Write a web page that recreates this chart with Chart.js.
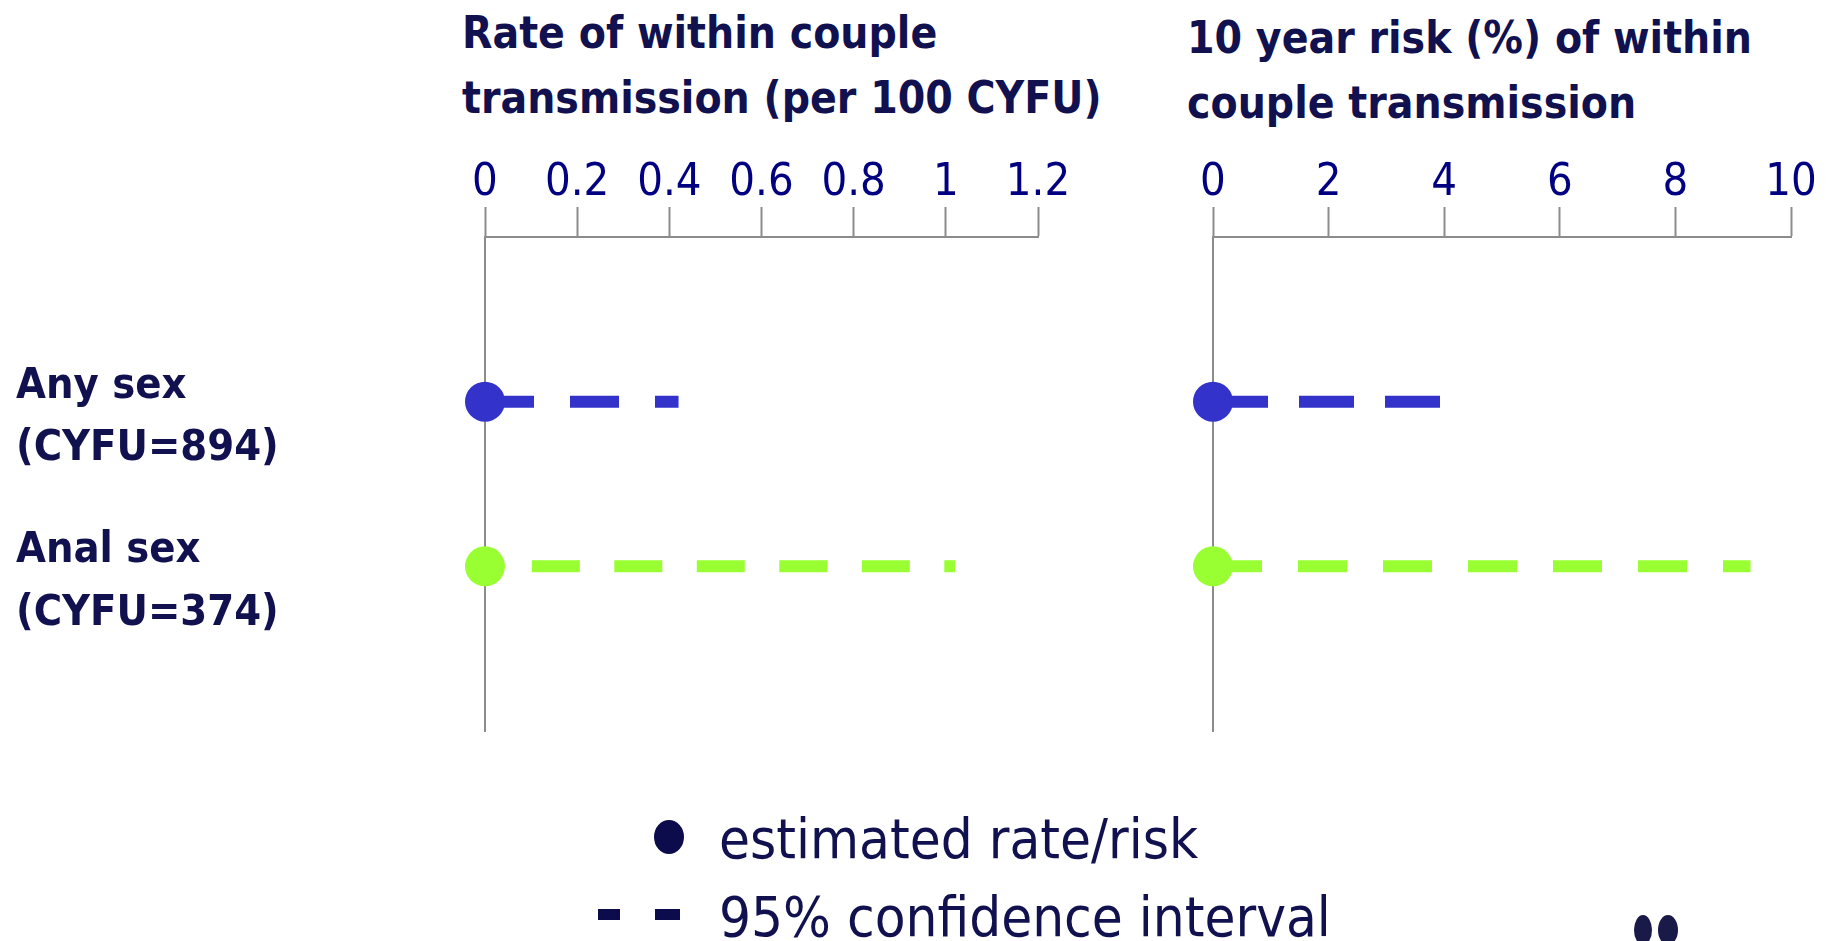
<!DOCTYPE html>
<html>
<head>
<meta charset="utf-8">
<script src="https://cdn.jsdelivr.net/npm/chart.js@4.4.1/dist/chart.umd.min.js"></script>
<style>
  body { margin: 0; background: #fff; width: 1833px; height: 941px; overflow: hidden; position: relative;
         font-family: "Liberation Sans Narrow", "DejaVu Sans Condensed", "Open Sans", sans-serif; }
  canvas { position: absolute; top: 0; }
  .title { position: absolute; font-weight: bold; font-size: 44px; line-height: 65px; color: #111150; white-space: nowrap; }
  .legtext { position: absolute; font-size: 56px; line-height: 70px; color: #111150; white-space: nowrap; }
  .dot { position: absolute; background: #0c0c4c; border-radius: 50%; }
  .dash { position: absolute; background: #0c0c4c; }
</style>
</head>
<body>
<div class="title" style="left:462px; top:0px;">Rate of within couple<br>transmission (per 100 CYFU)</div>
<div class="title" style="left:1187px; top:5px;">10 year risk (%) of within<br>couple transmission</div>

<canvas id="rateChart" width="1110" height="760" style="left:0px;"></canvas>
<canvas id="riskChart" width="723" height="760" style="left:1110px;"></canvas>

<div class="dot" style="left:654px; top:820px; width:30px; height:34px;"></div>
<div class="legtext" style="left:719px; top:804px;">estimated rate/risk</div>
<div class="dash" style="left:598px; top:909px; width:22px; height:11px;"></div>
<div class="dash" style="left:655px; top:909px; width:25px; height:11px;"></div>
<div class="legtext" style="left:719px; top:882px;">95% confidence interval</div>
<div class="dot" style="left:1634px; top:915px; width:18px; height:30px; background:#1a1a48;"></div>
<div class="dot" style="left:1658px; top:915px; width:20px; height:30px; background:#1a1a48;"></div>

<script>
const categories = ["Any sex", "Anal sex"];
const sampleSizes = ["(CYFU=894)", "(CYFU=374)"];
const colors = ["#3333cc", "#99ff33"];

const rateEstimate = [0, 0];
const rateUpper = [0.42, 1.02];
const riskEstimate = [0, 0];
const riskUpper = [4.05, 9.3];

const rateTicks = [0, 0.2, 0.4, 0.6, 0.8, 1, 1.2];
const riskTicks = [0, 2, 4, 6, 8, 10];

const FONT = '"Liberation Sans Narrow", "DejaVu Sans Condensed", "Open Sans", sans-serif';
const GRAY = "#8c8c8c";

// rows sit at y = 1 and 2 on a 0..3 reversed axis, which gives the empty space above and below
const rowPos = categories.map((c, i) => i + 1);

function buildDatasets(estimates, uppers, dashes) {
  const sets = [];
  categories.forEach((c, i) => {
    sets.push({
      label: c + " estimate",
      data: [{ x: estimates[i], y: rowPos[i] }],
      showLine: false,
      clip: false,
      pointRadius: 20,
      pointBorderWidth: 0,
      pointBackgroundColor: colors[i],
      pointBorderColor: colors[i],
      order: 0,
    });
    sets.push({
      label: c + " 95% CI",
      data: [{ x: estimates[i], y: rowPos[i] }, { x: uppers[i], y: rowPos[i] }],
      showLine: true,
      clip: false,
      borderColor: colors[i],
      borderWidth: 12,
      borderDash: dashes[i].pattern,
      borderDashOffset: dashes[i].offset,
      pointRadius: 0,
      order: 1,
    });
  });
  return sets;
}

function makeChart(id, estimates, uppers, tickList, max, dashes, opts) {
  return new Chart(document.getElementById(id), {
    type: "scatter",
    data: { datasets: buildDatasets(estimates, uppers, dashes) },
    options: {
      responsive: false,
      animation: false,
      layout: { padding: opts.padding },
      plugins: { legend: { display: false }, tooltip: { enabled: false } },
      scales: {
        x: {
          type: "linear",
          position: "top",
          min: 0,
          max: max,
          afterBuildTicks: (s) => { s.ticks = tickList.map((v) => ({ value: v })); },
          afterFit: (s) => { s.height = 237; },
          grid: { drawOnChartArea: false, tickLength: 30, tickColor: GRAY, tickWidth: 2 },
          border: { display: true, color: GRAY, width: 2 },
          ticks: {
            callback: (v) => String(v),
            color: "#000080",
            font: { family: FONT, size: 45 },
            padding: -3,
            maxRotation: 0,
            autoSkip: false,
          },
        },
        y: {
          type: "linear",
          position: "left",
          min: 0,
          max: 3,
          reverse: true,
          afterBuildTicks: (s) => { s.ticks = rowPos.map((v) => ({ value: v })); },
          afterFit: (s) => { s.width = opts.yWidth; s.paddingTop = 0; s.paddingBottom = 0; },
          grid: { display: false },
          border: { display: true, color: GRAY, width: 2 },
          ticks: {
            display: opts.showYLabels,
            callback: (v) => [categories[v - 1], sampleSizes[v - 1]],
            crossAlign: "far",
            labelOffset: 16,
            color: "#111150",
            font: { family: FONT, size: 43, weight: "bold", lineHeight: 1.45 },
          },
        },
      },
    },
  });
}

makeChart("rateChart", rateEstimate, rateUpper, rateTicks, 1.2,
  [{ pattern: [49, 36], offset: 0 }, { pattern: [48, 34.5], offset: 35.7 }],
  { padding: { left: 16, top: 0, right: 72, bottom: 29 }, yWidth: 469, showYLabels: true });
makeChart("riskChart", riskEstimate, riskUpper, riskTicks, 10,
  [{ pattern: [55, 31], offset: 0 }, { pattern: [49, 36], offset: 0 }],
  { padding: { left: 0, top: 0, right: 42, bottom: 29 }, yWidth: 103, showYLabels: false });
</script>
</body>
</html>
